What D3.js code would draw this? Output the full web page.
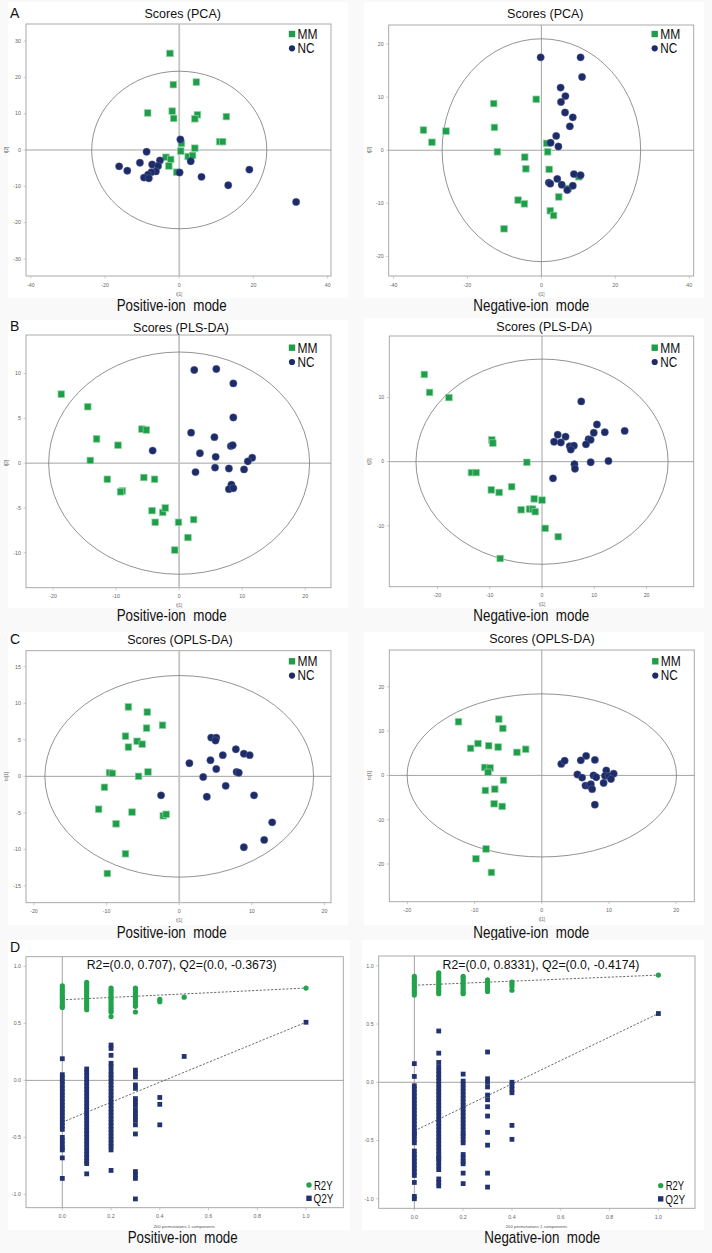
<!DOCTYPE html>
<html>
<head>
<meta charset="utf-8">
<script src="https://cdn.jsdelivr.net/npm/d3@7"></script>
<style>
  body { margin: 0; background: #f9f9f9; }
  svg { display: block; font-family: "Liberation Sans", Arial, sans-serif; }
</style>
</head>
<body>
<svg id="chart" width="712" height="1253"></svg>
<script>
// ---- score plots: [t1, t2] per sample ----
const pcaPosMM = [[-2.5,26.6],[-1.6,18.0],[4.6,18.7],[-8.5,10.2],[-1.9,10.7],[-1.5,8.7],[4.9,9.7],[4.2,8.6],[12.7,9.2],[10.9,2.3],
  [11.7,2.3],[0.6,1.8],[0.4,-0.3],[4.2,0.5],[-3.6,-2.0],[-2.3,-2.6],[-2.8,-4.4],[-0.7,-6.1],[2.4,-1.8],[3.6,-1.5]];
const pcaPosNC = [[0.3,2.9],[-8.8,-0.5],[-16.2,-4.5],[-14.0,-5.7],[-10.6,-3.5],[-7.3,-4.0],[-5.2,-2.9],[-5.7,-4.4],[-6.3,-5.9],[-7.5,-6.1],
  [-8.4,-6.8],[-9.5,-7.6],[-8.2,-7.8],[0.1,-6.2],[3.1,-3.1],[6.0,-7.4],[13.2,-9.7],[18.9,-5.4],[31.5,-14.3]];
const pcaNegMM = [[-1.4,9.6],[-12.9,8.8],[-12.7,4.3],[-31.9,3.8],[-29.6,1.5],[-25.8,3.6],[-11.9,-0.3],[-4.5,-1.3],[-4.2,-3.5],[1.4,1.3],
  [1.7,-0.3],[2.1,-3.6],[-6.3,-9.4],[-4.6,-10.1],[-10.1,-14.8],[2.4,-11.4],[3.3,-12.3],[4.7,-8.8],[10.1,-5.0],[7.3,-7.2]];
const pcaNegNC = [[-0.2,17.5],[10.6,17.5],[11.0,13.8],[5.2,11.8],[6.5,10.2],[5.3,9.1],[6.4,7.1],[8.5,6.2],[7.7,4.5],[4.0,2.7],
  [2.5,1.4],[4.6,0.7],[8.8,-4.5],[10.6,-4.7],[4.3,-5.4],[2.0,-6.1],[2.4,-6.3],[5.5,-6.5],[8.5,-6.7],[7.0,-7.5]];
const plsPosMM = [[-18.7,7.7],[-14.5,6.3],[-13.1,2.7],[-14.1,0.3],[-9.7,2.0],[-5.9,3.8],[-5.2,3.7],[-11.4,-1.8],[-5.6,-1.6],[-3.9,-1.8],
  [-9.0,-3.1],[-9.3,-3.2],[-4.3,-5.3],[-2.6,-5.5],[-2.2,-5.0],[-3.8,-6.6],[-0.1,-6.6],[2.3,-6.3],[1.4,-8.3],[-0.7,-9.7]];
const plsPosNC = [[2.4,10.4],[5.9,10.5],[8.6,8.9],[8.6,5.1],[1.9,3.4],[5.6,2.9],[8.2,1.9],[8.5,2.0],[-4.2,1.4],[3.3,1.1],
  [5.8,0.7],[11.6,0.6],[10.9,0.2],[5.7,-0.5],[7.9,-0.6],[10.3,-0.7],[2.6,-1.0],[8.3,-2.4],[7.9,-2.9],[8.6,-2.8]];
const plsNegMM = [[-22.5,13.6],[-21.5,10.8],[-17.8,10.0],[-9.6,3.4],[-9.4,2.9],[-2.9,-0.1],[-13.5,-1.7],[-12.6,-1.7],[-9.7,-4.4],[-8.2,-4.8],
  [-5.8,-3.9],[-1.5,-5.8],[0.0,-6.0],[-4.0,-7.5],[-2.4,-7.4],[-1.8,-7.4],[-1.3,-7.8],[0.6,-10.4],[3.1,-11.7],[-8.0,-15.1]];
const plsNegNC = [[7.5,9.4],[10.5,5.8],[9.9,4.5],[12.0,4.6],[15.8,4.8],[3.0,4.2],[4.5,3.9],[2.3,3.1],[3.6,3.0],[8.9,3.5],
  [9.3,3.4],[8.4,2.7],[5.3,2.4],[6.1,2.5],[5.5,1.9],[12.7,0.1],[9.3,-0.1],[6.2,-0.4],[6.3,-1.1],[2.1,-2.6]];
const oplsPosMM = [[-7.0,9.5],[-4.4,8.8],[-4.5,6.6],[-2.3,7.0],[-7.4,5.5],[-5.8,4.8],[-5.1,4.4],[-7.0,4.0],[-9.6,0.5],[-9.2,0.4],
  [-5.6,0.0],[-4.3,0.6],[-10.3,-1.5],[-11.1,-4.5],[-6.5,-4.9],[-8.7,-6.5],[-2.2,-5.4],[-1.8,-5.2],[-7.4,-10.6],[-9.9,-13.3]];
const oplsPosNC = [[4.4,5.3],[5.1,5.3],[5.0,4.9],[7.8,3.7],[6.0,2.9],[8.9,3.1],[9.7,2.9],[4.3,2.2],[1.4,1.8],[5.1,1.0],
  [7.9,0.6],[8.2,0.5],[3.3,-0.1],[6.4,-1.3],[-2.5,-2.6],[3.8,-2.8],[10.3,-2.6],[12.8,-6.3],[11.7,-8.7],[8.9,-9.7]];
const oplsNegMM = [[-12.4,12.1],[-6.4,12.7],[-5.8,10.6],[-10.6,6.1],[-9.5,7.2],[-7.9,6.7],[-6.5,6.4],[-3.7,5.2],[-2.4,5.9],[-8.5,1.8],
  [-7.7,1.7],[-8.0,0.7],[-5.7,-1.1],[-8.4,-3.4],[-7.0,-3.1],[-7.1,-6.4],[-5.9,-7.0],[-8.3,-16.6],[-9.8,-18.8],[-7.5,-21.9]];
const oplsNegNC = [[2.9,2.6],[3.4,3.3],[6.6,4.4],[5.8,3.4],[7.9,3.5],[5.3,0.2],[6.0,-0.5],[7.7,0.0],[8.1,-0.4],[9.6,1.1],
  [9.4,-0.1],[10.0,-0.2],[10.7,0.4],[10.3,-0.8],[6.5,-2.3],[7.0,-2.3],[7.3,-2.0],[7.5,-3.1],[9.2,-1.7],[7.9,-6.6]];

// Hotelling T2 ellipse half-axes [t1, t2]
const pcaPosEllipse = [23.6, 21.7];
const pcaNegEllipse = [26.85, 21.0];
const plsPosEllipse = [20.7, 12.4];
const plsNegEllipse = [24.1, 16.0];
const oplsPosEllipse = [18.5, 13.8];
const oplsNegEllipse = [20.05, 18.4];

// tick labels
const pcaXTicks = [-40, -20, 0, 20, 40];
const pcaPosYTicks = [-30, -20, -10, 0, 10, 20, 30];
const pcaNegYTicks = [-20, -10, 0, 10, 20];
const plsXTicks = [-20, -10, 0, 10, 20];
const plsPosYTicks = [-10, -5, 0, 5, 10];
const plsNegYTicks = [-10, 0, 10];
const oplsXTicks = [-20, -10, 0, 10, 20];
const oplsPosYTicks = [-15, -10, -5, 0, 5, 10, 15];
const oplsNegYTicks = [-20, -10, 0, 10, 20];
const permXTicks = [0, 0.2, 0.4, 0.6, 0.8, 1.0];
const permYTicks = [-1, -0.5, 0, 0.5, 1];

// ---- permutation tests: [x, [values]] ----
const permPosR2Y = [
  [0.0, [0.83,0.81,0.79,0.77,0.75,0.73,0.71,0.69,0.67,0.65,0.64]],
  [0.1, [0.86,0.84,0.82,0.80,0.78,0.76,0.74,0.72,0.70,0.68,0.66,0.64,0.62]],
  [0.2, [0.81,0.79,0.77,0.75,0.73,0.71,0.69,0.67,0.65,0.63,0.61,0.60,0.56]],
  [0.3, [0.81,0.79,0.77,0.75,0.73,0.71,0.69,0.67,0.65,0.60]],
  [0.4, [0.71,0.69]],
  [0.5, [0.73]],
  [1.0, [0.81]]
];
const permPosQ2Y = [
  [0.0, [0.19,0.05,0.02,-0.01,-0.04,-0.07,-0.10,-0.13,-0.16,-0.19,-0.22,-0.25,-0.28,-0.31,-0.34,-0.37,-0.40,-0.43,
         -0.50,-0.53,-0.56,-0.59,-0.61,-0.68,-0.86]],
  [0.1, [0.10,0.07,0.04,0.01,-0.02,-0.05,-0.08,-0.11,-0.14,-0.17,-0.20,-0.23,-0.26,-0.29,-0.32,-0.35,-0.38,-0.41,
         -0.44,-0.47,-0.50,-0.53,-0.56,-0.59,-0.62,-0.65,-0.68,-0.71,-0.73,-0.82]],
  [0.2, [0.31,0.28,0.22,0.15,0.12,0.08,0.05,0.02,-0.01,-0.04,-0.07,-0.10,-0.13,-0.16,-0.19,-0.22,-0.25,-0.28,-0.31,
         -0.34,-0.37,-0.40,-0.43,-0.46,-0.49,-0.52,-0.55,-0.58,-0.61,-0.79]],
  [0.3, [0.09,0.06,0.03,-0.04,-0.07,-0.16,-0.19,-0.22,-0.26,-0.29,-0.32,-0.35,-0.39,-0.47,-0.80,-0.83,-0.86,-1.04]],
  [0.4, [-0.15,-0.21,-0.39]],
  [0.5, [0.21]],
  [1.0, [0.51]]
];
const permNegR2Y = [
  [0.0, [0.91,0.89,0.87,0.85,0.83,0.81,0.79,0.77,0.75]],
  [0.1, [0.94,0.92,0.90,0.88,0.86,0.84,0.82,0.80,0.78,0.76]],
  [0.2, [0.91,0.89,0.87,0.85,0.83,0.81,0.79,0.77,0.76]],
  [0.3, [0.88,0.86,0.84,0.82,0.80,0.78]],
  [0.4, [0.86,0.84,0.82,0.79]],
  [1.0, [0.92]]
];
const permNegQ2Y = [
  [0.0, [0.16,0.05,-0.03,-0.06,-0.09,-0.12,-0.15,-0.18,-0.21,-0.24,-0.27,-0.30,-0.33,-0.36,-0.39,-0.42,-0.44,-0.46,
         -0.49,-0.52,-0.59,-0.62,-0.65,-0.68,-0.71,-0.74,-0.77,-0.80,-0.86,-0.98,-1.00]],
  [0.1, [0.44,0.25,0.17,0.13,0.10,0.07,0.04,0.01,-0.02,-0.05,-0.08,-0.11,-0.14,-0.17,-0.20,-0.23,-0.26,-0.29,-0.32,
         -0.35,-0.38,-0.41,-0.44,-0.47,-0.50,-0.53,-0.56,-0.59,-0.62,-0.65,-0.66,-0.69,-0.72,-0.75,-0.83,-0.86,-0.89]],
  [0.2, [0.07,0.01,-0.02,-0.05,-0.08,-0.11,-0.14,-0.17,-0.20,-0.23,-0.26,-0.29,-0.32,-0.35,-0.38,-0.41,-0.44,-0.46,
         -0.49,-0.52,-0.62,-0.65,-0.68,-0.70,-0.78,-0.87]],
  [0.3, [0.26,0.03,0.00,-0.04,-0.11,-0.15,-0.21,-0.29,-0.43,-0.54,-0.78,-0.90]],
  [0.4, [0.00,-0.03,-0.06,-0.09,-0.37,-0.49]],
  [1.0, [0.59]]
];
// regression lines: intercept -> original model
const permPosR2Line = [[0, 0.707], [1.0, 0.81]];
const permPosQ2Line = [[0, -0.3673], [1.0, 0.51]];
const permNegR2Line = [[0, 0.8331], [1.0, 0.92]];
const permNegQ2Line = [[0, -0.4174], [1.0, 0.59]];

const GREEN = "#1f9d4b";
const NAVY = "#1d2b69";

const svg = d3.select("#chart");

function fmtInt(v) { return String(v); }
function fmt1(v) { return v.toFixed(1); }

function frameAndAxes(g, p, x, y, fmt) {
  const [l, t, r, b] = p.frame;
  g.append("rect").attr("x", p.bg[0]).attr("y", p.bg[1]).attr("width", p.bg[2] - p.bg[0]).attr("height", p.bg[3] - p.bg[1])
    .attr("fill", "#fff");
  g.append("rect").attr("x", l).attr("y", t).attr("width", r - l).attr("height", b - t)
    .attr("fill", "none").attr("stroke", "#a0a0a0").attr("stroke-width", 0.9);

  g.selectAll(".xt").data(p.xt).enter().append("text")
    .attr("x", (d) => x(d)).attr("y", b + 10.5)
    .attr("text-anchor", "middle").style("font-size", "5.3px").attr("fill", "#666").text(fmt);
  g.selectAll(".xtk").data(p.xt).enter().append("line")
    .attr("x1", (d) => x(d)).attr("x2", (d) => x(d)).attr("y1", b).attr("y2", b + 2.5)
    .attr("stroke", "#aaa").attr("stroke-width", 0.6);
  g.selectAll(".yt").data(p.yt).enter().append("text")
    .attr("x", l - 5).attr("y", (d) => y(d) + 1.8)
    .attr("text-anchor", "end").style("font-size", "5.3px").attr("fill", "#666").text(fmt);
  g.selectAll(".ytk").data(p.yt).enter().append("line")
    .attr("y1", (d) => y(d)).attr("y2", (d) => y(d)).attr("x1", l - 2.5).attr("x2", l)
    .attr("stroke", "#aaa").attr("stroke-width", 0.6);

  // zero lines
  g.append("line").attr("x1", l).attr("x2", r).attr("y1", y(0)).attr("y2", y(0))
    .attr("stroke", "#999").attr("stroke-width", 0.9);
  g.append("line").attr("x1", x(0)).attr("x2", x(0)).attr("y1", t).attr("y2", b)
    .attr("stroke", p.thickV ? "#c4c4c4" : "#999").attr("stroke-width", p.thickV ? 1.8 : 0.9);

  if (p.letter) {
    g.append("text").attr("x", 10).attr("y", p.letterY).style("font-size", "14px").attr("fill", "#111").text(p.letter);
  }
  g.append("text").attr("x", p.modeX).attr("y", p.modeY).attr("text-anchor", "middle")
    .style("font-size", "17px").style("white-space", "pre").attr("xml:space", "preserve").attr("fill", "#111")
    .attr("textLength", p.modeW).attr("lengthAdjust", "spacingAndGlyphs").text(p.mode);
}

function drawScores(p) {
  const [l, t, r, b] = p.frame;
  const x = d3.scaleLinear().domain(p.xd).range([l, r]);
  const y = d3.scaleLinear().domain(p.yd).range([b, t]);
  const g = svg.append("g");
  frameAndAxes(g, p, x, y, fmtInt);

  g.append("text").attr("x", p.titleX).attr("y", p.titleY).attr("text-anchor", "middle")
    .style("font-size", "12.5px").attr("fill", "#111").text(p.title);
  g.append("text").attr("x", x(0)).attr("y", b + 19.5).attr("text-anchor", "middle")
    .style("font-size", "4.5px").attr("fill", "#666").text(p.xLabel);
  g.append("text").attr("transform", `translate(${l - 18},${y(0)}) rotate(-90)`).attr("text-anchor", "middle")
    .style("font-size", "4.5px").attr("fill", "#666").text(p.yLabel);

  // T2 ellipse
  g.append("ellipse").attr("cx", x(0)).attr("cy", y(0))
    .attr("rx", x(p.ell[0]) - x(0)).attr("ry", y(0) - y(p.ell[1]))
    .attr("fill", "none").attr("stroke", "#777").attr("stroke-width", 0.8);

  const s = 6.6;
  g.selectAll(".mm").data(p.mm).enter().append("rect")
    .attr("x", (d) => x(d[0]) - s / 2).attr("y", (d) => y(d[1]) - s / 2)
    .attr("width", s).attr("height", s)
    .attr("fill", GREEN).attr("stroke", "#8fd3a0").attr("stroke-width", 0.7);
  g.selectAll(".nc").data(p.nc).enter().append("circle")
    .attr("cx", (d) => x(d[0])).attr("cy", (d) => y(d[1])).attr("r", 3.7)
    .attr("fill", NAVY).attr("stroke", "#6b76a3").attr("stroke-width", 0.4);

  // legend
  const lx = r - 39, ly = t + p.legDy;
  g.append("rect").attr("x", lx - 3.2).attr("y", ly - 3.2).attr("width", 6.4).attr("height", 6.4).attr("fill", GREEN);
  g.append("text").attr("x", lx + 5.5).attr("y", ly + 4.8).style("font-size", "14px").attr("fill", "#111")
    .attr("textLength", 20).attr("lengthAdjust", "spacingAndGlyphs").text("MM");
  g.append("circle").attr("cx", lx).attr("cy", ly + 14.3).attr("r", 3.1).attr("fill", NAVY);
  g.append("text").attr("x", lx + 5.5).attr("y", ly + 19.1).style("font-size", "14px").attr("fill", "#111")
    .attr("textLength", 17).attr("lengthAdjust", "spacingAndGlyphs").text("NC");
}

function drawPerm(p) {
  const [l, t, r, b] = p.frame;
  const x = d3.scaleLinear().domain(p.xd).range([l, r]);
  const y = d3.scaleLinear().domain(p.yd).range([b, t]);
  const g = svg.append("g");
  frameAndAxes(g, p, x, y, fmt1);

  g.append("text").attr("x", x(0.5)).attr("y", b + 20).attr("text-anchor", "middle")
    .style("font-size", "4.3px").attr("fill", "#555").text("200 permutations 1 components");
  g.append("text").attr("x", p.statX).attr("y", 969).attr("text-anchor", "middle")
    .style("font-size", "12.3px").attr("fill", "#111").text(p.stat);

  const line = d3.line().x((d) => x(d[0])).y((d) => y(d[1]));
  [p.r2Line, p.q2Line].forEach((ln) => {
    g.append("path").attr("d", line(ln)).attr("fill", "none")
      .attr("stroke", "#444").attr("stroke-width", 0.8).attr("stroke-dasharray", "2.2,1.6");
  });

  const q2 = p.q2.flatMap(([px, vs]) => vs.map((v) => [px, v]));
  const r2 = p.r2.flatMap(([px, vs]) => vs.map((v) => [px, v]));
  const s = 4.8;
  g.selectAll(".q2").data(q2).enter().append("rect")
    .attr("x", (d) => x(d[0]) - s / 2).attr("y", (d) => y(d[1]) - s / 2)
    .attr("width", s).attr("height", s).attr("fill", "#233371");
  g.selectAll(".r2").data(r2).enter().append("circle")
    .attr("cx", (d) => x(d[0])).attr("cy", (d) => y(d[1])).attr("r", 2.6).attr("fill", "#22a34c");

  const lx = r - 34.3;
  g.append("circle").attr("cx", lx).attr("cy", b - 22.7).attr("r", 2.7).attr("fill", "#22a34c");
  g.append("text").attr("x", lx + 5).attr("y", b - 18).style("font-size", "13px").attr("fill", "#111")
    .attr("textLength", 18.5).attr("lengthAdjust", "spacingAndGlyphs").text("R2Y");
  g.append("rect").attr("x", lx - 2.7).attr("y", b - 9.4 - 2.7).attr("width", 5.4).attr("height", 5.4).attr("fill", "#233371");
  g.append("text").attr("x", lx + 4.5).attr("y", b - 4.8).style("font-size", "13px").attr("fill", "#111")
    .attr("textLength", 20).attr("lengthAdjust", "spacingAndGlyphs").text("Q2Y");
}

const scorePanels = [
  { letter: "A", letterY: 18.3, title: "Scores (PCA)", titleX: 182.7, titleY: 18.3, frame: [26, 24, 331, 276], bg: [8, 2, 348, 298],
    xd: [-41.3, 40.9], yd: [-34.7, 34.7], xt: pcaXTicks, yt: pcaPosYTicks, mm: pcaPosMM, nc: pcaPosNC, ell: pcaPosEllipse,
    xLabel: "t[1]", yLabel: "t[2]", thickV: true, legDy: 10, mode: "Positive-ion  mode", modeX: 171.7, modeY: 311, modeW: 110 },
  { title: "Scores (PCA)", titleX: 545.3, titleY: 18.3, frame: [388.7, 25, 693.7, 276], bg: [364, 2, 704, 298],
    xd: [-41.3, 41.2], yd: [-23.7, 23.6], xt: pcaXTicks, yt: pcaNegYTicks, mm: pcaNegMM, nc: pcaNegNC, ell: pcaNegEllipse,
    xLabel: "t[1]", yLabel: "t[2]", thickV: false, legDy: 9, mode: "Negative-ion  mode", modeX: 531.3, modeY: 311, modeW: 116 },
  { letter: "B", letterY: 330.7, title: "Scores (PLS-DA)", titleX: 181, titleY: 331.7, frame: [26, 335, 331, 587.7], bg: [8, 320, 348, 608],
    xd: [-24.3, 24.1], yd: [-13.9, 14.3], xt: plsXTicks, yt: plsPosYTicks, mm: plsPosMM, nc: plsPosNC, ell: plsPosEllipse,
    xLabel: "t[1]", yLabel: "t[2]", thickV: true, legDy: 12.7, mode: "Positive-ion  mode", modeX: 171.7, modeY: 621, modeW: 110 },
  { title: "Scores (PLS-DA)", titleX: 544.3, titleY: 330.7, frame: [389.3, 336, 693.7, 586.7], bg: [364, 318, 704, 608],
    xd: [-29.2, 29.0], yd: [-19.5, 19.6], xt: plsXTicks, yt: plsNegYTicks, mm: plsNegMM, nc: plsNegNC, ell: plsNegEllipse,
    xLabel: "t[1]", yLabel: "t[2]", thickV: false, legDy: 11.7, mode: "Negative-ion  mode", modeX: 531.3, modeY: 621, modeW: 116 },
  { letter: "C", letterY: 644, title: "Scores (OPLS-DA)", titleX: 180, titleY: 644, frame: [26, 650.7, 331, 902.7], bg: [8, 632, 348, 925],
    xd: [-21.1, 20.9], yd: [-17.3, 17.2], xt: oplsXTicks, yt: oplsPosYTicks, mm: oplsPosMM, nc: oplsPosNC, ell: oplsPosEllipse,
    xLabel: "t[1]", yLabel: "to[1]", thickV: true, legDy: 10.6, mode: "Positive-ion  mode", modeX: 171.7, modeY: 938, modeW: 110 },
  { title: "Scores (OPLS-DA)", titleX: 542, titleY: 643, frame: [389.3, 650, 694.3, 901.7], bg: [364, 632, 704, 925],
    xd: [-22.7, 22.7], yd: [-28.5, 28.3], xt: oplsXTicks, yt: oplsNegYTicks, mm: oplsNegMM, nc: oplsNegNC, ell: oplsNegEllipse,
    xLabel: "t[1]", yLabel: "to[1]", thickV: false, legDy: 11.3, mode: "Negative-ion  mode", modeX: 531.3, modeY: 938, modeW: 116 }
];

const permPanels = [
  { letter: "D", letterY: 951.7, frame: [26, 956.7, 343.3, 1207.7], bg: [8, 940, 350, 1230],
    xd: [-0.149, 1.153], yd: [-1.117, 1.085], xt: permXTicks, yt: permYTicks, thickV: false,
    r2: permPosR2Y, q2: permPosQ2Y, r2Line: permPosR2Line, q2Line: permPosQ2Line,
    stat: "R2=(0.0, 0.707), Q2=(0.0, -0.3673)", statX: 181.7,
    mode: "Positive-ion  mode", modeX: 182.7, modeY: 1243, modeW: 110 },
  { frame: [378.7, 956, 695, 1208.3], bg: [362, 940, 704, 1230],
    xd: [-0.146, 1.150], yd: [-1.082, 1.084], xt: permXTicks, yt: permYTicks, thickV: false,
    r2: permNegR2Y, q2: permNegQ2Y, r2Line: permNegR2Line, q2Line: permNegQ2Line,
    stat: "R2=(0.0, 0.8331), Q2=(0.0, -0.4174)", statX: 541,
    mode: "Negative-ion  mode", modeX: 542.3, modeY: 1243, modeW: 116 }
];

scorePanels.forEach(drawScores);
permPanels.forEach(drawPerm);
</script>
</body>
</html>
